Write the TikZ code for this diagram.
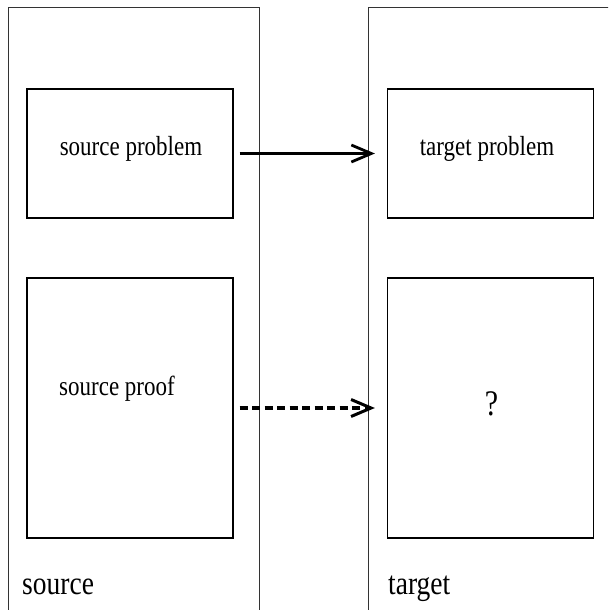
\documentclass[tikz,border=0pt]{standalone}
\usepackage{fontspec}
\setmainfont{Liberation Serif}
\usetikzlibrary{arrows.meta}
\newcommand{\tallt}[1]{\scalebox{1}[1.2]{#1}}
\begin{document}
\begin{tikzpicture}[x=1pt,y=-1pt,
  frame/.style={draw=black!80, line width=0.9pt},
  box/.style={draw, line width=1.2pt, inner sep=0pt, minimum width=206pt},
  lab/.style={inner sep=0pt, font=\fontsize{23}{27}\selectfont},
  biglab/.style={inner sep=0pt, font=\fontsize{27.5}{32}\selectfont, anchor=base west},
  arr/.style={line width=2.8pt, -{Straight Barb[length=20pt,width=17pt,line width=2.8pt]}},
  darr/.style={line width=3.4pt, dash pattern=on 8pt off 4.5pt, -{Straight Barb[length=20pt,width=17pt,line width=3pt]}}]
\useasboundingbox (0,0) rectangle (608,610);
\clip (0,0) rectangle (608,610);
\draw[frame] (8,640) -- (8,7) -- (259,7) -- (259,640);
\draw[frame] (368,640) -- (368,7) -- (640,7);
\node[box, minimum height=129pt] (sp) at (130,153.5) {};
\node[box, minimum height=129pt] (tp) at (490.5,153.5) {};
\node[box, minimum height=260pt] (spr) at (130,408) {};
\node[box, minimum height=260pt] (tpr) at (490.5,408) {};
\node[lab, anchor=base] (spt) at (131,155) {\tallt{source problem}};
\node[lab, anchor=base] (tpt) at (487,155) {\tallt{target problem}};
\node[lab, anchor=base west] (sprt) at (59,395) {\tallt{source proof}};
\node[lab, anchor=base, font=\fontsize{30}{34}\selectfont] (q) at (491.5,415) {\tallt{?}};
\node[biglab] (src) at (22,594) {\tallt{source}};
\node[biglab] (tgt) at (388,594) {\tallt{target}};
\draw[arr] ([xshift=6pt]sp.east) -- ([xshift=-12pt]tp.west);
\draw[darr] ([xshift=6pt]spr.east) -- ([xshift=-12pt]tpr.west);
\end{tikzpicture}
\end{document}
